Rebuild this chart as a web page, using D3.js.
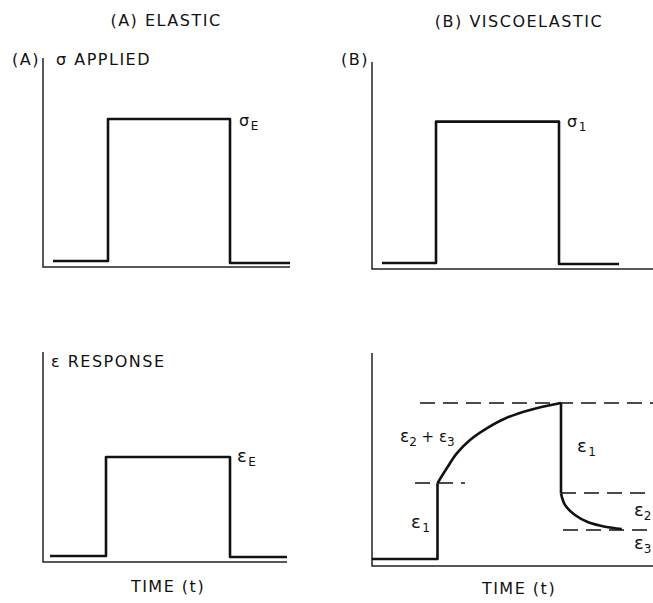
<!DOCTYPE html>
<html>
<head>
<meta charset="utf-8">
<script src="https://cdn.jsdelivr.net/npm/d3@7"></script>
<style>
body { margin: 0; background: #fff; }
svg text { font-family: 'DejaVu Sans', sans-serif; fill: #111; letter-spacing: 1.5px; }
</style>
</head>
<body>
<svg id="chart" width="653" height="603"></svg>
<script>

// [ time, level ] pairs, time 0 = y-axis, arbitrary units
var elasticStress = [ [ 0.4, 0.29 ], [ 2.6, 0.29 ], [ 2.6, 7.15 ], [ 7.48, 7.15 ], [ 7.48, 0.19 ], [ 9.88, 0.19 ] ];
var elasticStrain = [ [ 0.28, 0.29 ], [ 2.52, 0.29 ], [ 2.52, 5.07 ], [ 7.48, 5.07 ], [ 7.48, 0.24 ], [ 9.76, 0.24 ] ];
var viscoStress   = [ [ 0.4, 0.29 ], [ 2.56, 0.29 ], [ 2.56, 7.12 ], [ 7.48, 7.12 ], [ 7.48, 0.24 ], [ 9.88, 0.24 ] ];

var viscoStep     = [ [ 0, 0.34 ], [ 2.62, 0.34 ], [ 2.62, 4.0 ] ];
var viscoCreep    = [ [ 2.62, 4.0 ], [ 2.99, 4.72 ], [ 3.39, 5.44 ], [ 3.92, 6.09 ], [ 4.59, 6.65 ], [ 5.39, 7.16 ], [ 6.32, 7.54 ], [ 7.56, 7.87 ] ];
var viscoDrop     = [ [ 7.56, 7.87 ], [ 7.56, 3.51 ] ];
var viscoRecovery = [ [ 7.56, 3.51 ], [ 7.72, 2.95 ], [ 8.12, 2.46 ], [ 8.65, 2.11 ], [ 9.32, 1.90 ], [ 9.99, 1.79 ] ];

// dashed guide levels: [ level, from, to ]
var guides = [ [ 7.87, 1.92, 11.3 ], [ 4.01, 1.72, 3.72 ], [ 3.53, 7.56, 11.3 ], [ 1.74, 7.64, 11.3 ] ];

var svg = d3.select('#chart');

function makePanel ( ox, oy, xEnd, yEnd ) {

    var x = d3.scaleLinear().domain([ 0, 10 ]).range([ ox, ox + 250 ]);
    var y = d3.scaleLinear().domain([ 0, 10 ]).range([ oy, oy - 207 ]);

    var g = svg.append('g');

    // axes
    g.append('path')
        .attr('d', 'M' + x( 0 ) + ',' + y( yEnd ) + 'V' + y( 0 ) + 'H' + x( xEnd ))
        .attr('fill', 'none')
        .attr('stroke', '#222')
        .attr('stroke-width', 1.5);

    return { g: g, x: x, y: y };

}

function drawLine ( p, data, curve, dashed ) {

    var gen = d3.line()
        .x( function ( d ) { return p.x( d[ 0 ] ); } )
        .y( function ( d ) { return p.y( d[ 1 ] ); } )
        .curve( curve || d3.curveLinear );

    p.g.append('path')
        .datum( data )
        .attr('d', gen)
        .attr('fill', 'none')
        .attr('stroke', '#111')
        .attr('stroke-width', dashed ? 1.5 : 2.6)
        .attr('stroke-dasharray', dashed ? '15,8' : null)
        .attr('stroke-linejoin', 'round');

}

function label ( px, py, main, sub, anchor, size, spacing ) {

    var t = svg.append('text')
        .attr('x', px)
        .attr('y', py)
        .attr('text-anchor', anchor || 'start')
        .style('font-size', ( size || 16 ) + 'px');

    if ( spacing !== undefined ) t.style('letter-spacing', spacing + 'px');

    t.append('tspan').text( main );

    if ( sub ) {

        t.append('tspan')
            .attr('dy', 4)
            .style('font-size', '12px')
            .style('letter-spacing', '0px')
            .text( sub );

    }

    return t;

}

var tl = makePanel( 43, 267, 9.88, 10.1 );
var tr = makePanel( 372, 269, 11.24, 10.0 );
var bl = makePanel( 43, 562, 9.76, 10.14 );
var br = makePanel( 372, 566, 11.24, 10.29 );

drawLine( tl, elasticStress );
drawLine( bl, elasticStrain );
drawLine( tr, viscoStress );

drawLine( br, viscoStep );
drawLine( br, viscoCreep, d3.curveCatmullRom );
drawLine( br, viscoDrop );
drawLine( br, viscoRecovery, d3.curveCatmullRom );

guides.forEach( function ( d ) {

    drawLine( br, [ [ d[ 1 ], d[ 0 ] ], [ d[ 2 ], d[ 0 ] ] ], null, true );

});

// titles
label( 166, 26, '(A) ELASTIC', null, 'middle' );
label( 519, 27, '(B) VISCOELASTIC', null, 'middle' );

label( 12, 65, '(A)' );
label( 56, 65, 'σ APPLIED' );
label( 341, 65, '(B)' );
label( 51, 367, 'ε RESPONSE' );

label( 168, 592, 'TIME (t)', null, 'middle' );
label( 519, 594, 'TIME (t)', null, 'middle' );

// series annotations
label( 239, 126, 'σ', 'E' );
label( 567, 127, 'σ', '1' );
label( 237, 462, 'ε', 'E', null, 18 );

label( 400, 442, 'ε', '2', null, 17, 0 ).call( function ( t ) {

    t.append('tspan').attr('dy', -4).style('font-size', '15px').text(' + ε');
    t.append('tspan').attr('dy', 4).style('font-size', '12px').text('3');

});

label( 577, 452, 'ε', '1', null, 18 );
label( 411, 528, 'ε', '1', null, 18 );
label( 634, 516, 'ε', '2', null, 18, 0 );
label( 634, 549, 'ε', '3', null, 18, 0 );

</script>
</body>
</html>
